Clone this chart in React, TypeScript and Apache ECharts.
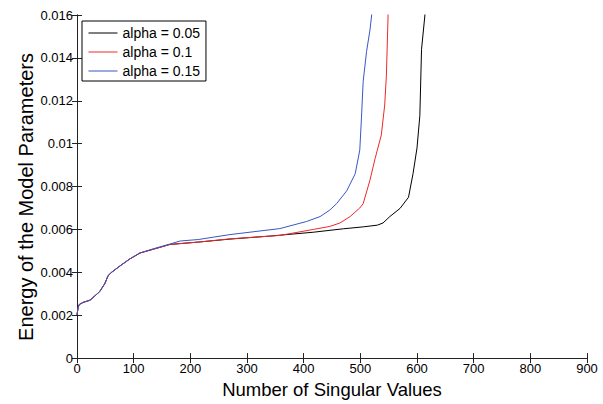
import React, { useEffect, useRef } from "react";
import * as echarts from "echarts";

const seriesNames = ["alpha = 0.05", "alpha = 0.1", "alpha = 0.15"];
const seriesColors = ["#000000", "#f02828", "#3a56c8"];

const xTicks = [0, 100, 200, 300, 400, 500, 600, 700, 800, 900];
const yTicks = [0, 0.002, 0.004, 0.006, 0.008, 0.01, 0.012, 0.014, 0.016];

const xTitle = "Number of Singular Values";
const yTitle = "Energy of the Model Parameters";

const alpha005: [number, number][] = [
  [0, 0.00202], [2, 0.00235], [4, 0.0025], [11, 0.0026], [23, 0.0027], [40, 0.0031],
  [49, 0.00347], [55, 0.00385], [61, 0.004], [76, 0.0043], [93, 0.00462], [111, 0.0049],
  [135, 0.00508], [164, 0.0053], [214, 0.00541], [270, 0.00555], [340, 0.00569],
  [417, 0.00587], [470, 0.00603], [505, 0.00612], [530, 0.0062], [540, 0.0063],
  [552, 0.0066], [570, 0.00698], [585, 0.0075], [593, 0.0086], [600, 0.0098],
  [605, 0.0113], [608, 0.0144], [614, 0.016], [617, 0.019],
];

const alpha01: [number, number][] = [
  [0, 0.00202], [2, 0.00237], [4, 0.0025], [11, 0.0026], [23, 0.0027], [40, 0.0031],
  [49, 0.00347], [55, 0.00385], [61, 0.004], [76, 0.0043], [93, 0.00462], [111, 0.0049],
  [135, 0.00508], [164, 0.0053], [214, 0.00541], [270, 0.00556], [358, 0.00572],
  [417, 0.006], [446, 0.00614], [464, 0.0063], [482, 0.0066], [499, 0.007],
  [505, 0.0072], [517, 0.0083], [526, 0.0093], [537, 0.0104], [543, 0.0118],
  [546, 0.0132], [549, 0.016], [551, 0.019],
];

const alpha015: [number, number][] = [
  [0, 0.00202], [2, 0.00236], [4, 0.0025], [11, 0.0026], [23, 0.0027], [40, 0.0031],
  [49, 0.00347], [55, 0.00385], [61, 0.004], [76, 0.0043], [93, 0.00462], [111, 0.0049],
  [135, 0.0051], [164, 0.00532], [182, 0.00546], [214, 0.00553], [270, 0.00576],
  [358, 0.00604], [405, 0.00637], [429, 0.0066], [446, 0.0069], [458, 0.0072],
  [476, 0.0078], [491, 0.0086], [499, 0.0097], [502, 0.0112], [505, 0.0129],
  [511, 0.0143], [517, 0.0153], [520, 0.016], [522, 0.019],
];

const seriesData = [alpha005, alpha01, alpha015];

const FONT = "Liberation Sans";

export default function App() {
  const ref = useRef<HTMLDivElement>(null);
  useEffect(() => {
    if (!ref.current) return;
    const chart = echarts.init(ref.current, undefined, { renderer: "svg" });
    const axisLine = { show: true, lineStyle: { color: "#222", width: 1 } };
    const axisTick = { show: true, inside: true, length: 5, lineStyle: { color: "#222", width: 1 } };
    chart.setOption({
      animation: false,
      backgroundColor: "#ffffff",
      grid: { left: 77, right: 16, top: 15, bottom: 40, containLabel: false },
      legend: {
        show: true,
        orient: "vertical",
        left: 82,
        top: 21,
        data: seriesNames,
        itemWidth: 29,
        itemHeight: 14,
        itemGap: 5,
        padding: [5, 6, 3, 6],
        borderColor: "#000",
        borderWidth: 1,
        backgroundColor: "#fff",
        itemStyle: { opacity: 0, borderWidth: 0 },
        lineStyle: { width: 1 },
        textStyle: { fontFamily: FONT, fontSize: 14, color: "#000" },
      },
      graphic: [
        {
          type: "text",
          x: 26,
          y: 197,
          rotation: Math.PI / 2,
          silent: true,
          style: {
            text: yTitle,
            fontFamily: FONT,
            fontSize: 20,
            fill: "#000",
            textAlign: "center",
            textVerticalAlign: "middle",
          },
        },
      ],
      xAxis: [
        {
          type: "value",
          min: xTicks[0],
          max: xTicks[xTicks.length - 1],
          interval: 100,
          position: "bottom",
          name: xTitle,
          nameLocation: "middle",
          nameGap: 19,
          nameTextStyle: { fontFamily: FONT, fontSize: 18.5, color: "#000" },
          axisLine,
          axisTick,
          splitLine: { show: false },
          axisLabel: { fontFamily: FONT, fontSize: 13, color: "#000", margin: 4 },
        },
        {
          type: "value",
          min: xTicks[0],
          max: xTicks[xTicks.length - 1],
          interval: 100,
          position: "top",
          axisLine,
          axisTick,
          splitLine: { show: false },
          axisLabel: { show: false },
        },
      ],
      yAxis: [
        {
          type: "value",
          min: yTicks[0],
          max: yTicks[yTicks.length - 1],
          interval: 0.002,
          position: "left",
          axisLine,
          axisTick,
          splitLine: { show: false },
          axisLabel: {
            fontFamily: FONT,
            fontSize: 13,
            color: "#000",
            margin: 4,
            formatter: (v: number) => String(parseFloat(v.toFixed(4))),
          },
        },
        {
          type: "value",
          min: yTicks[0],
          max: yTicks[yTicks.length - 1],
          interval: 0.002,
          position: "right",
          axisLine,
          axisTick,
          splitLine: { show: false },
          axisLabel: { show: false },
        },
      ],
      series: seriesNames.map((name, i) => ({
        name,
        type: "line",
        data: seriesData[i],
        xAxisIndex: 0,
        yAxisIndex: 0,
        showSymbol: false,
        symbol: "none",
        clip: true,
        color: seriesColors[i],
        lineStyle: { color: seriesColors[i], width: 1 },
      })),
    });
    return () => chart.dispose();
  }, []);
  return <div ref={ref} style={{ width: 603, height: 404, position: "fixed", left: 0, top: 0 }} />;
}
